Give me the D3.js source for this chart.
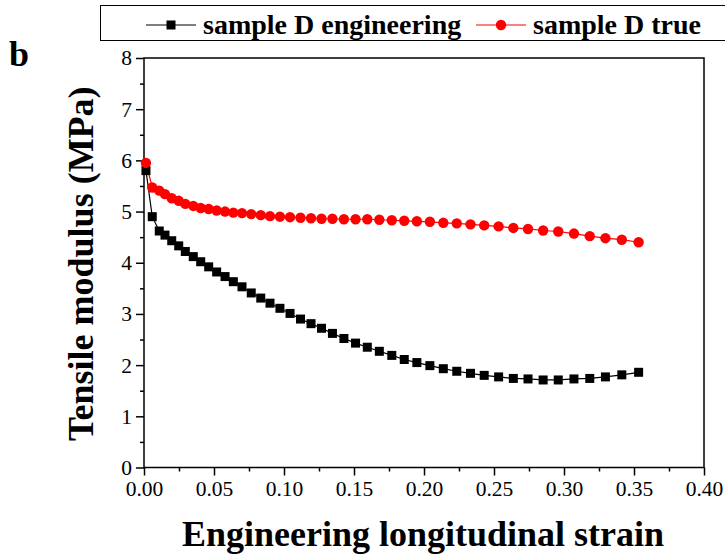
<!DOCTYPE html>
<html><head><meta charset="utf-8">
<script src="https://cdn.jsdelivr.net/npm/d3@7"></script>
<style>body{margin:0;background:#fff}svg{display:block}text{font-family:"Liberation Serif","Times New Roman",serif}</style>
</head><body><svg id="c" width="725" height="560"></svg>
<script>
const strain = [0.0014,0.0059,0.0109,0.0150,0.0198,0.0248,0.0295,0.0352,0.0405,0.0462,0.0519,0.0579,0.0638,0.0700,0.0766,0.0834,0.0900,0.0971,0.1043,0.1118,0.1193,0.1268,0.1346,0.1428,0.1511,0.1595,0.1681,0.1770,0.1859,0.1949,0.2042,0.2138,0.2234,0.2332,0.2430,0.2533,0.2638,0.2743,0.2851,0.2959,0.3071,0.3184,0.3296,0.3413,0.3533];
const engineering = [5.80,4.90,4.62,4.54,4.43,4.33,4.22,4.12,4.02,3.92,3.82,3.73,3.63,3.53,3.41,3.31,3.21,3.11,3.01,2.90,2.81,2.72,2.62,2.52,2.43,2.35,2.27,2.19,2.11,2.05,1.99,1.93,1.88,1.84,1.80,1.77,1.74,1.73,1.71,1.71,1.73,1.74,1.77,1.81,1.86];
const trueMod = [5.95,5.47,5.41,5.34,5.26,5.21,5.15,5.11,5.07,5.05,5.02,5.00,4.98,4.97,4.95,4.93,4.91,4.90,4.89,4.88,4.87,4.86,4.86,4.85,4.85,4.85,4.84,4.83,4.82,4.81,4.80,4.78,4.77,4.75,4.73,4.71,4.68,4.66,4.63,4.61,4.57,4.52,4.48,4.45,4.40];
const xTicks = [0,0.05,0.10,0.15,0.20,0.25,0.30,0.35,0.40];
const yTicks = [0,1,2,3,4,5,6,7,8];
const seriesNames = ["sample D engineering","sample D true"];
const seriesColors = ["#000000","#ff0000"];
const SERIF = '"Liberation Serif","Times New Roman",serif';

const svg = d3.select("#c");
const L=144,R=704,T=58,B=467.5;
const x = d3.scaleLinear().domain([0,0.40]).range([L,R]);
const y = d3.scaleLinear().domain([0,8]).range([B,T]);

const xMinor = d3.range(0.025,0.40,0.05);
const yMinor = d3.range(0.5,8,1);
svg.append("g").attr("transform",`translate(0,${B})`)
  .call(d3.axisBottom(x).tickValues(xMinor).tickSize(4).tickFormat(""))
  .call(g=>g.select(".domain").remove()).selectAll("line").attr("stroke-width",1.5);
svg.append("g").attr("transform",`translate(${L},0)`)
  .call(d3.axisLeft(y).tickValues(yMinor).tickSize(4).tickFormat(""))
  .call(g=>g.select(".domain").remove()).selectAll("line").attr("stroke-width",1.5);

const gx = svg.append("g").attr("transform",`translate(0,${B})`)
  .call(d3.axisBottom(x).tickValues(xTicks).tickSize(8).tickPadding(5).tickFormat(d3.format(".2f")));
gx.select(".domain").remove();
gx.selectAll("line").attr("stroke-width",1.5);
gx.selectAll("text").style("font-size","21.5px").style("font-family",SERIF).attr("fill","#000");

const gy = svg.append("g").attr("transform",`translate(${L},0)`)
  .call(d3.axisLeft(y).tickValues(yTicks).tickSize(8).tickPadding(4).tickFormat(d3.format("d")));
gy.select(".domain").remove();
gy.selectAll("line").attr("stroke-width",1.5);
gy.selectAll("text").style("font-size","21.5px").style("font-family",SERIF).attr("fill","#000");

svg.append("rect").attr("x",L).attr("y",T).attr("width",R-L).attr("height",B-T)
  .attr("fill","none").attr("stroke","#000").attr("stroke-width",1.5);

const data = strain.map((s,i)=>({s,e:engineering[i],t:trueMod[i]}));
const lineE = d3.line().x(d=>x(d.s)).y(d=>y(d.e));
const lineT = d3.line().x(d=>x(d.s)).y(d=>y(d.t));
svg.append("path").datum(data).attr("d",lineE).attr("fill","none").attr("stroke",seriesColors[0]).attr("stroke-width",1.2);
svg.append("path").datum(data).attr("d",lineT).attr("fill","none").attr("stroke",seriesColors[1]).attr("stroke-width",1.2);
svg.append("g").selectAll("rect").data(data).join("rect")
  .attr("x",d=>x(d.s)-4.5).attr("y",d=>y(d.e)-4.5).attr("width",9).attr("height",9).attr("fill",seriesColors[0]);
svg.append("g").selectAll("circle").data(data).join("circle")
  .attr("cx",d=>x(d.s)).attr("cy",d=>y(d.t)).attr("r",5.2).attr("fill",seriesColors[1]);

// legend
svg.append("rect").attr("x",100.5).attr("y",5.5).attr("width",700).attr("height",35)
  .attr("fill","none").attr("stroke","#000").attr("stroke-width",1);
const lg = [{x0:146,tx:203},{x0:476,tx:533}];
lg.forEach((l,i)=>{
  svg.append("line").attr("x1",l.x0).attr("x2",l.x0+50).attr("y1",25).attr("y2",25).attr("stroke",seriesColors[i]).attr("stroke-width",1.2);
  if(i===0) svg.append("rect").attr("x",l.x0+25-4.5).attr("y",25-4.5).attr("width",9).attr("height",9).attr("fill",seriesColors[0]);
  else svg.append("circle").attr("cx",l.x0+25).attr("cy",25).attr("r",5.2).attr("fill",seriesColors[1]);
  svg.append("text").attr("x",l.tx).attr("y",34).style("font-size","28px").attr("font-weight","bold").text(seriesNames[i]);
});

svg.append("text").attr("x",9).attr("y",66).style("font-size","36px").attr("font-weight","bold").text("b");
svg.append("text").attr("transform",`translate(93,${(T+B)/2+1}) rotate(-90)`).attr("text-anchor","middle")
  .style("font-size","36px").attr("font-weight","bold").text("Tensile modulus (MPa)");
svg.append("text").attr("x",423).attr("y",546).attr("text-anchor","middle")
  .style("font-size","36px").attr("font-weight","bold").text("Engineering longitudinal strain");
</script></body></html>
